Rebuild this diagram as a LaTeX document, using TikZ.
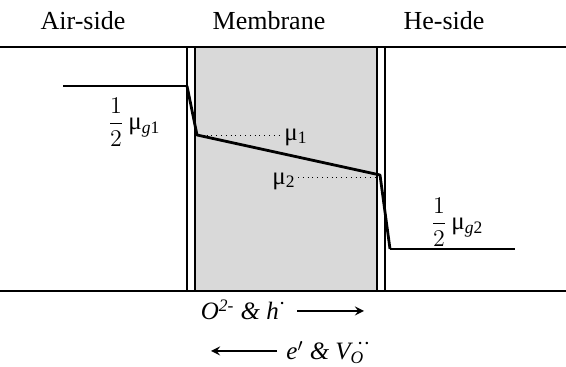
\documentclass[tikz,border=0pt]{standalone}
\usepackage{amsmath}
\usepackage{fontspec}
\setmainfont{Liberation Serif}
\usepackage{tikz}
\newcommand{\half}{$\dfrac{1}{2}$}

\begin{document}
\begin{tikzpicture}[x=0.5pt,y=0.5pt,>=stealth]
    \tikzstyle{title}=[anchor=base, font=\fontsize{13}{15}\selectfont]
    \tikzstyle{lab}=[inner sep=1pt, font=\fontsize{12.5}{15}\selectfont]
    \tikzstyle{wall}=[line width=0.8pt]
    \tikzstyle{level}=[line width=1.4pt, line join=round]

    \useasboundingbox (0,0) rectangle (566,367);

    \fill[black!15] (195,76) rectangle (377,320);
    \draw[line width=1pt] (0,320) -- (566,320);
    \draw[line width=1pt] (0,76) -- (566,76);
    \draw[wall] (187,76) -- (187,320);
    \draw[wall] (195,76) -- (195,320);
    \draw[wall] (377,76) -- (377,320);
    \draw[wall] (385,76) -- (385,320);

    \node[title] (air) at (83,337) {Air-side};
    \node[title] (mem) at (269,337) {Membrane};
    \node[title] (he) at (444,337) {He-side};

    \coordinate (gasA) at (63,281);
    \coordinate (surfA) at (187,281);
    \coordinate (muone) at (197,232);
    \coordinate (mutwo) at (380,192);
    \coordinate (surfB) at (390,118);
    \coordinate (gasB) at (515,118);
    \draw[line width=1pt] (gasA) -- (surfA);
    \draw[level] (surfA) -- (muone) -- (mutwo) -- (surfB);
    \draw[line width=1pt] (surfB) -- (gasB);

    \node[lab, anchor=west] (lmuone) at (282,230) {μ\textsubscript{1}};
    \node[lab, anchor=east] (lmutwo) at (298,186) {μ\textsubscript{2}};
    \draw[dotted, thin] (muone) -- (lmuone.west |- muone);
    \draw[dotted, thin] (lmutwo.east |- 0,190) -- (mutwo |- 0,190);

    \node[lab] (gone) at (134,245) {\half\,μ\textsubscript{\textit{g}1}};
    \node[lab] (gtwo) at (457,145) {\half\,μ\textsubscript{\textit{g}2}};

    \node[lab, anchor=base east] (fwd) at (288,47)
    {\itshape O\textsuperscript{2-} \& h\raisebox{0.9ex}{$\cdot$}};
    \coordinate (fwdA) at (297,56);
    \coordinate (fwdB) at (364,56);
    \draw[->, line width=1pt] (fwdA) -- (fwdB);

    \node[lab, anchor=base west] (bwd) at (284,7)
    {\itshape e$'$ \& V\textsubscript{O}\kern-0.3em\raisebox{0.9ex}{$\cdot\cdot$}};
    \coordinate (bwdA) at (277,16);
    \coordinate (bwdB) at (211,16);
    \draw[->, line width=1pt] (bwdA) -- (bwdB);
  \end{tikzpicture}
\end{document}
